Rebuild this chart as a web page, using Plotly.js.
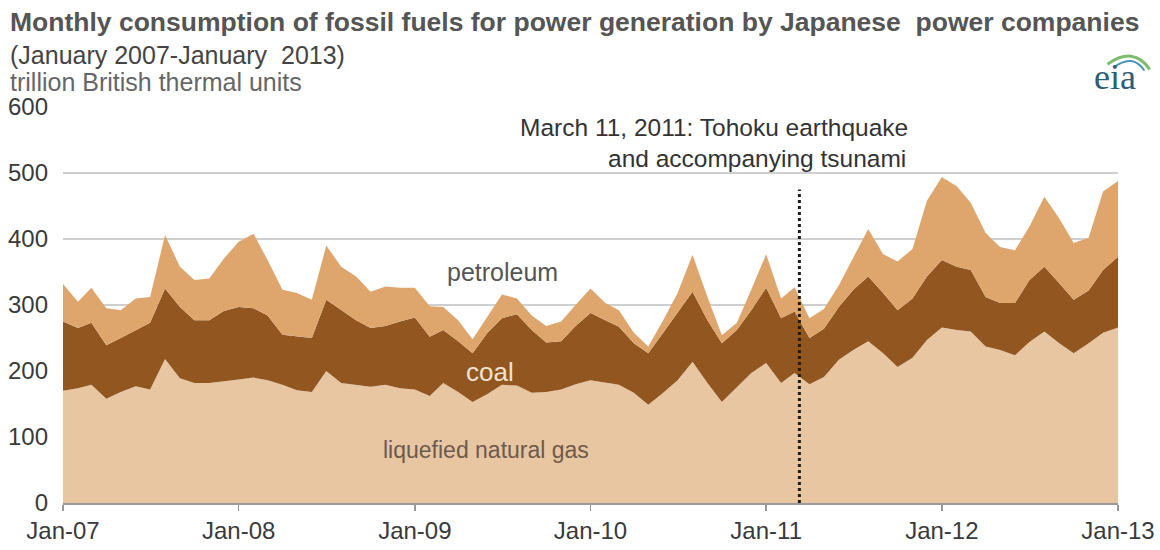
<!DOCTYPE html>
<html>
<head>
<meta charset="utf-8">
<script src="https://cdn.plot.ly/plotly-3.0.1.min.js"></script>
<style>html,body{margin:0;padding:0;background:#fff;}#chart{width:1160px;height:550px;}</style>
</head>
<body>
<div id="chart"></div>
<script>
// Monthly values, January 2007 to January 2013 (trillion Btu)
const lng = [170,174,179,158,168,177,172,218,189,182,182,185,
  187,190,186,179,171,168,200,182,179,176,179,174,
  172,162,182,168,153,165,179,178,167,168,172,180,
  186,182,179,167,149,167,186,214,182,153,176,197,
  212,182,197,180,191,217,232,245,227,206,220,247,
  266,262,260,237,232,224,244,260,242,227,242,258,
  266];
const coal = [105,91,94,81,82,85,101,107,108,95,95,106,
  110,105,98,76,81,82,108,110,98,89,89,101,
  109,90,80,77,74,93,101,108,95,75,73,88,
  102,95,88,75,78,91,102,106,95,89,86,95,
  114,98,93,70,73,80,91,98,91,86,90,96,
  102,96,93,75,71,79,94,98,91,81,80,95,
  107];
const petroleum = [57,40,53,56,42,48,39,81,61,61,63,79,
  99,113,84,68,66,58,82,66,66,55,60,51,
  45,46,35,32,21,24,36,24,22,25,30,32,
  37,26,25,16,10,19,30,56,35,12,11,31,
  51,30,37,30,30,33,50,72,59,74,75,115,
  126,122,102,97,85,80,81,106,98,86,80,119,
  115];
const startYear = 2007, startMonth = 1, nMonths = 73;
const tickVals = ['2007-01-01','2008-01-01','2009-01-01','2010-01-01','2011-01-01','2012-01-01','2013-01-01'];
const tickText = ['Jan-07','Jan-08','Jan-09','Jan-10','Jan-11','Jan-12','Jan-13'];
const yTicks = [0,100,200,300,400,500,600];
const quakeDate = '2011-03-11';
const quakeLineTop = 475;

const months = [];
for (let k = 0; k < nMonths; k++) {
  const m0 = startMonth - 1 + k;
  const y = startYear + Math.floor(m0 / 12);
  const m = (m0 % 12) + 1;
  months.push(y + '-' + String(m).padStart(2, '0') + '-01');
}

const FONT = 'Liberation Sans, Arial, sans-serif';
const traces = [
  {x: months, y: lng, name: 'liquefied natural gas', type: 'scatter', mode: 'lines', stackgroup: 'one',
   line: {width: 0}, fillcolor: '#e8c6a2', hoverinfo: 'x+y+name'},
  {x: months, y: coal, name: 'coal', type: 'scatter', mode: 'lines', stackgroup: 'one',
   line: {width: 0}, fillcolor: '#925620', hoverinfo: 'x+y+name'},
  {x: months, y: petroleum, name: 'petroleum', type: 'scatter', mode: 'lines', stackgroup: 'one',
   line: {width: 0}, fillcolor: '#dea56c', hoverinfo: 'x+y+name'}
];

const layout = {
  width: 1160, height: 550,
  margin: {l: 63, r: 42, t: 107, b: 47},
  paper_bgcolor: '#ffffff', plot_bgcolor: '#ffffff',
  showlegend: false,
  font: {family: FONT, color: '#444'},
  xaxis: {
    type: 'date', range: ['2007-01-01', '2013-01-01'],
    tickvals: tickVals, ticktext: tickText,
    ticks: 'outside', ticklen: 6, tickcolor: '#999', tickwidth: 1.5,
    showgrid: false, showline: true, linecolor: '#9a9a9a', linewidth: 1.5,
    tickfont: {family: FONT, size: 24, color: '#3a3a3a'}, zeroline: false, fixedrange: true
  },
  yaxis: {
    range: [0, 600], tickvals: yTicks,
    showgrid: true, gridcolor: '#cfcfcf', gridwidth: 1.5,
    zeroline: false, showline: false, ticks: '',
    tickfont: {family: FONT, size: 24, color: '#3a3a3a'}, ticklabelstandoff: 14, fixedrange: true
  },
  shapes: [
    {type: 'line', xref: 'x', yref: 'y', x0: quakeDate, x1: quakeDate, y0: 0, y1: quakeLineTop,
     line: {color: '#1c1c1c', width: 3, dash: 'dot'}},
    {type: 'path', xref: 'paper', yref: 'paper',
     path: 'M 0.990 1.108 Q 1.015 1.155 1.030 1.095', line: {color: '#7dbb6e', width: 3}},
    {type: 'path', xref: 'paper', yref: 'paper',
     path: 'M 0.996 1.100 Q 1.014 1.136 1.025 1.092', line: {color: '#4a93b8', width: 2}}
  ],
  annotations: [
    {xref: 'paper', yref: 'paper', x: -0.052, y: 1.215, xanchor: 'left', yanchor: 'middle', showarrow: false,
     text: '<b>Monthly consumption of fossil fuels for power generation by Japanese  power companies</b>',
     font: {family: FONT, size: 26.5, color: '#555'}},
    {xref: 'paper', yref: 'paper', x: -0.052, y: 1.131, xanchor: 'left', yanchor: 'middle', showarrow: false,
     text: '(January 2007-January  2013)', font: {family: FONT, size: 25, color: '#444'}},
    {xref: 'paper', yref: 'paper', x: -0.052, y: 1.063, xanchor: 'left', yanchor: 'middle', showarrow: false,
     text: 'trillion British thermal units', font: {family: FONT, size: 25, color: '#666'}},
    {xref: 'paper', yref: 'paper', x: 0.997, y: 1.076, xanchor: 'center', yanchor: 'middle', showarrow: false,
     text: 'eia', font: {family: 'Liberation Serif, DejaVu Serif, serif', size: 36, color: '#2d5d78'}},
    {xref: 'paper', yref: 'paper', x: 0.803, y: 0.947, xanchor: 'right', yanchor: 'middle', showarrow: false,
     align: 'right', text: 'March 11, 2011: Tohoku earthquake', font: {family: FONT, size: 24.5, color: '#333'}},
    {xref: 'paper', yref: 'paper', x: 0.801, y: 0.871, xanchor: 'right', yanchor: 'middle', showarrow: false,
     align: 'right', text: 'and accompanying tsunami', font: {family: FONT, size: 24.5, color: '#333'}},
    {xref: 'paper', yref: 'paper', x: 0.417, y: 0.583, xanchor: 'center', yanchor: 'middle', showarrow: false,
     text: 'petroleum', font: {family: FONT, size: 25, color: '#555'}},
    {xref: 'paper', yref: 'paper', x: 0.405, y: 0.331, xanchor: 'center', yanchor: 'middle', showarrow: false,
     text: 'coal', font: {family: FONT, size: 26, color: '#f3e2d0'}},
    {xref: 'paper', yref: 'paper', x: 0.401, y: 0.134, xanchor: 'center', yanchor: 'middle', showarrow: false,
     text: 'liquefied natural gas', font: {family: FONT, size: 23, color: '#6e5a4c'}}
  ]
};

Plotly.newPlot('chart', traces, layout, {displayModeBar: false, staticPlot: true});
</script>
</body>
</html>
